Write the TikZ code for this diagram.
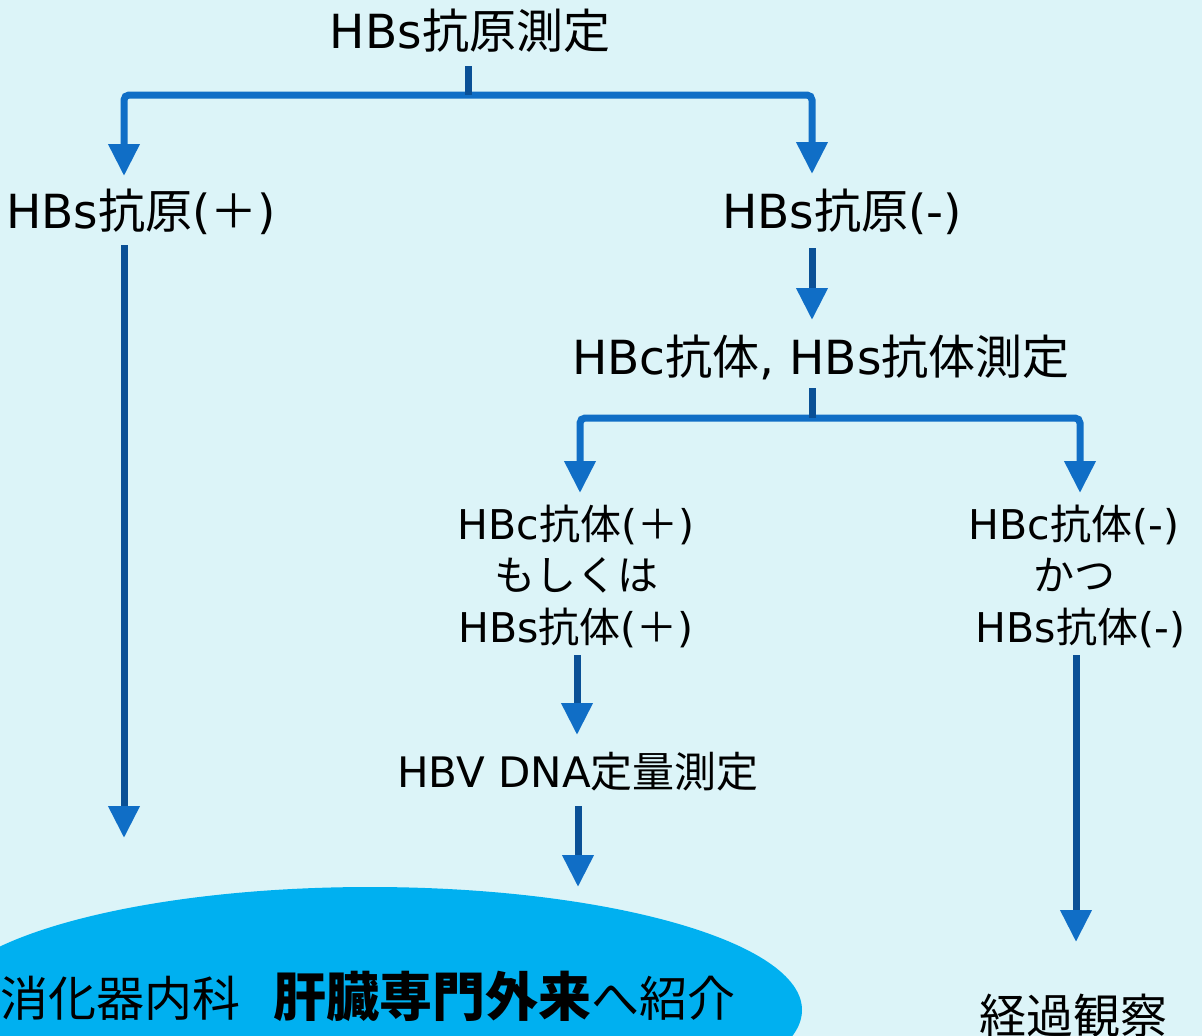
\documentclass[tikz,border=0pt]{standalone}
\usepackage{fontspec}
\setmainfont{Noto Sans CJK JP}
\newfontfamily\latfam{DejaVu Sans}
\newcommand{\lt}[1]{{\latfam #1}}
\usetikzlibrary{arrows.meta,shapes.geometric}
\definecolor{bgc}{RGB}{220,244,248}
\definecolor{ellc}{RGB}{0,176,240}
\definecolor{headc}{RGB}{16,110,198}
\definecolor{stemc}{RGB}{10,80,150}
\tikzset{
  tip/.style={-{Triangle[width=30pt,length=32pt,color=headc]}},
  dtip/.style={{Triangle[width=30pt,length=32pt,color=headc]}-{Triangle[width=30pt,length=32pt,color=headc]}},
  stem/.style={draw=stemc,line width=7pt},
  bar/.style={draw=headc,line width=7pt,rounded corners=5pt},
  bigtxt/.style={inner sep=0pt,font=\fontsize{47}{52}\selectfont},
  midtxt/.style={inner sep=0pt,align=center,font=\fontsize{41}{51.5}\selectfont},
  dnatxt/.style={inner sep=0pt,font=\fontsize{42}{50}\selectfont},
}
\begin{document}
\begin{tikzpicture}[x=1pt,y=-1pt]
\clip (0,0) rectangle (1202,1036);
\fill[bgc] (0,0) rectangle (1202,1036);
% ellipse
\node[draw=none,fill=ellc,ellipse,inner sep=0pt,minimum width=864pt,minimum height=246pt] (ell) at (370,1010) {};
% texts
\node[bigtxt] (t0) at (470,31) {\lt{HBs}抗原測定};
\node[bigtxt] (lp) at (141,212) {\lt{HBs}抗原\lt{(}＋\lt{)}};
\node[bigtxt] (rp) at (842,212) {\lt{HBs}抗原\lt{(-)}};
\node[bigtxt] (m) at (821,357) {\lt{HBc}抗体\lt{, HBs}抗体測定};
\node[midtxt] (c1) at (576,576) {\lt{HBc}抗体\lt{(}＋\lt{)}\\もしくは\\\lt{HBs}抗体\lt{(}＋\lt{)}};
\node[midtxt] (c2) at (1074,576) {\lt{HBc}抗体\lt{(-)}\\かつ\\\lt{\ HBs}抗体\lt{(-)}};
\node[dnatxt] (dna) at (578,772) {\lt{HBV DNA}定量測定};
\node[bigtxt] (kk) at (1073,1016) {経過観察};
\node[inner sep=0pt,anchor=west,font=\fontsize{48}{56}\selectfont] (ref) at (0,996)
  {消化器内科\hspace{33pt}{\fontsize{53}{56}\selectfont\bfseries 肝臓専門外来}へ紹介};
% coordinates
\coordinate (s0) at (468,66);
\coordinate (j0) at (468,95);
\coordinate (a1) at (124,176);
\coordinate (a2) at (812,174);
\coordinate (l0) at (124,245);
\coordinate (l1) at (124,838);
\coordinate (r0) at (812,248);
\coordinate (r1) at (812,320);
\coordinate (s1) at (812,388);
\coordinate (j1) at (812,418);
\coordinate (b1) at (580,493);
\coordinate (b2) at (1080,493);
\coordinate (p0) at (577,655);
\coordinate (p1) at (577,735);
\coordinate (q0) at (578,806);
\coordinate (q1) at (578,887);
\coordinate (w0) at (1076,655);
\coordinate (w1) at (1076,942);
% connectors
\draw[bar,dtip] (a1) |- (j0) -| (a2);
\draw[stem] (s0) -- (j0);
\draw[stem,tip] (l0) -- (l1);
\draw[stem,tip] (r0) -- (r1);
\draw[bar,dtip] (b1) |- (j1) -| (b2);
\draw[stem] (s1) -- (j1);
\draw[stem,tip] (p0) -- (p1);
\draw[stem,tip] (q0) -- (q1);
\draw[stem,tip] (w0) -- (w1);
\end{tikzpicture}
\end{document}
